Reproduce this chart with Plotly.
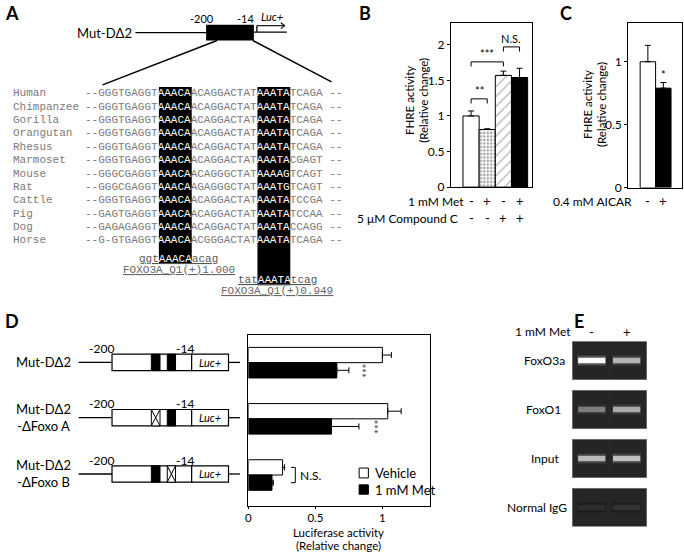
import plotly.graph_objects as go

W, H = 684, 558
SANS = "Lato"
MONO = "Liberation Mono"
GRAY = "#7a7a7a"


def fx(px):
    return px / W


def fy(py):
    return 1 - py / H


# ---------------- data ----------------
# A: alignment of the promoter region
species = ["Human", "Chimpanzee", "Gorilla", "Orangutan", "Rhesus", "Marmoset",
           "Mouse", "Rat", "Cattle", "Pig", "Dog", "Horse"]
sequences = [
    "--GGGTGAGGTAAACAACAGGACTATAAATATCAGA --",
    "--GGGTGAGGTAAACAACAGGACTATAAATATCAGA --",
    "--GGGTGAGGTAAACAACAGGACTATAAATATCAGA --",
    "--GGGTGAGGTAAACAACAGGACTATAAATATCAGA --",
    "--GGGTGAGGTAAACAACAGGACTATAAATATCAGA --",
    "--GGGTGAGGTAAACAACAGGACTATAAATACGAGT --",
    "--GGGCGAGGTAAACAACAGGGCTATAAAAGTCAGT --",
    "--GGGCGAGGTAAACAAGAGGGCTATAAATGTCAGT --",
    "--GGGTGAGGTAAACAACAGGACTATAAATATCCGA --",
    "--GAGTGAGGTAAACAACAGGACTATAAATATCCAA --",
    "--GAGAGAGGTAAACAACAGGACTATAAATACCAGG --",
    "--G-GTGAGGTAAACAACGGGACTATAAATATCAGA --",
]
foxo_sites = [(11, 16), (26, 31)]
site_motifs = ["ggt<span style='color:white'>AAACA</span>acag",
               "tat<span style='color:white'>AAATA</span>tcag"]
site_scores = ["FOXO3A_Q1(+)1.000", "FOXO3A_Q1(+)0.949"]

# B: FHRE activity, metformin +/- compound C
b_values = [1.00, 0.81, 1.57, 1.54]
b_errors = [0.07, 0.01, 0.06, 0.13]
b_met = ["-", "+", "-", "+"]
b_compound = ["-", "-", "+", "+"]
b_fill = ["white", "white", "white", "black"]
b_pattern = ["", ".", "/", ""]
b_brackets = [(0, 1, 1.24, "**"), (0, 2, 1.76, "***"), (2, 3, 1.97, "N.S.")]

# C: FHRE activity, AICAR
c_values = [1.00, 0.79]
c_errors = [0.13, 0.045]
c_aicar = ["-", "+"]

# D: constructs and luciferase activity
d_names = ["Mut-DΔ2", "Mut-DΔ2<br>-ΔFoxo A", "Mut-DΔ2<br>-ΔFoxo B"]
d_sites = [("black", "black"), ("cross", "black"), ("black", "cross")]
d_vehicle = [1.00, 1.04, 0.255]
d_vehicle_err = [0.067, 0.10, 0.015]
d_met = [0.66, 0.62, 0.176]
d_met_err = [0.09, 0.205, 0.01]
d_stars = [(0, 0.845, "***"), (1, 0.935, "***")]

# E: ChIP gel band intensities (0-255)
e_targets = ["FoxO3a", "FoxO1", "Input", "Normal IgG"]
e_label_x = [543.5, 543, 544.5, 536]
e_lanes = ["-", "+"]
e_vehicle = [250, 125, 185, 45]
e_met = [180, 170, 190, 50]

# ---------------- figure ----------------
fig = go.Figure()
shapes = []
ann = []


def txt(x, y, s, size=12, xanchor="center", yanchor="middle", family=SANS,
        color="black", xref="paper", yref="paper", **kw):
    ann.append(dict(x=x if xref != "paper" else fx(x), y=y if yref != "paper" else fy(y),
                    xref=xref, yref=yref, text=s, showarrow=False,
                    xanchor=xanchor, yanchor=yanchor, borderpad=0, borderwidth=0,
                    font=dict(size=size, family=family, color=color), **kw))


def line(x0, y0, x1, y1, w=1.3, color="black"):
    shapes.append(dict(type="line", xref="paper", yref="paper",
                       x0=fx(x0), y0=fy(y0), x1=fx(x1), y1=fy(y1),
                       line=dict(color=color, width=w)))


def rect(x0, y0, x1, y1, fill, lw=1.2, lc="black", layer="above"):
    shapes.append(dict(type="rect", xref="paper", yref="paper",
                       x0=fx(x0), y0=fy(y0), x1=fx(x1), y1=fy(y1), fillcolor=fill,
                       line=dict(color=lc, width=lw), layer=layer))


# panel letters
for letter, x, y in [("A", 2, 13), ("B", 358, 13), ("C", 559, 13), ("D", 2, 325), ("E", 574, 325)]:
    txt(x, y, "<b>%s</b>" % letter, size=18, xanchor="left")

# ---- A: schematic ----
txt(130, 33, "Mut-DΔ2", size=13, xanchor="right")
line(133, 33, 204, 33)
rect(204, 25, 252, 41, "black", lw=0)
line(252, 32.5, 285, 32.5)
line(255, 32.5, 255, 26)
line(255, 26, 283, 26, w=1.1)
line(279, 23, 283, 26, w=1.1)
line(279, 29, 283, 26, w=1.1)
txt(200, 19, "-200", size=11)
txt(244, 19, "-14", size=11)
txt(270, 17, "<i>Luc+</i>", size=11)
line(215, 41, 100, 86, w=1.5)
line(251, 41, 330, 83, w=1.5)

# alignment
SX, CW = 82, 6.6
ROW0, ROWH = 94.5, 13.55
hl_bottom = [267, 289]
for (a, b), yb in zip(foxo_sites, hl_bottom):
    rect(SX + (a + 0.3) * CW, 88, SX + (b + 0.3) * CW, yb, "black", lw=0)

for i, (sp, seq) in enumerate(zip(species, sequences)):
    y = ROW0 + i * ROWH
    txt(10, y, sp, size=11, family=MONO, color=GRAY, xanchor="left")
    parts, last = [], 0
    for a, b in foxo_sites:
        parts.append(seq[last:a])
        parts.append("<span style='color:white'>%s</span>" % seq[a:b])
        last = b
    parts.append(seq[last:])
    txt(SX, y, "".join(parts), size=11, family=MONO, color=GRAY, xanchor="left")

motif_y = [(262, 273), (284, 295)]
for (a, b), motif, score, (ym, ys) in zip(foxo_sites, site_motifs, site_scores, motif_y):
    x0 = SX + (a + 0.3 - 3) * CW
    txt(x0, ym, "<u>%s</u>" % motif, size=11, family=MONO, color="#555", xanchor="left")
    txt(x0 + 6 * CW, ys, "<u>%s</u>" % score, size=11, family=MONO, color="#666")

# ---- B ----
fig.add_trace(go.Bar(
    x=list(range(4)), y=b_values, width=1, xaxis="x", yaxis="y",
    marker=dict(color=b_fill, line=dict(color="black", width=1),
                pattern=dict(shape=b_pattern, fgcolor="black", bgcolor="white",
                             size=[4, 3.5, 7, 4], solidity=[0.3, 0.4, 0.15, 0.3])),
    error_y=dict(type="data", symmetric=False, array=b_errors, arrayminus=[0] * 4,
                 color="black", thickness=1, width=3),
    showlegend=False))

for x0, x1, y, lab in b_brackets:
    shapes.append(dict(type="path", xref="x", yref="y",
                       path="M %s,%s L %s,%s L %s,%s L %s,%s" % (x0, y - 0.065, x0, y, x1, y, x1, y - 0.065),
                       line=dict(color="black", width=1)))
    txt((x0 + x1) / 2, y + 0.02, lab, size=11, xref="x", yref="y", yanchor="bottom")

for i in range(4):
    txt(i, 204, b_met[i], size=13, xref="x")
    txt(i, 221, b_compound[i], size=13, xref="x")
txt(463, 204, "1 mM Met", size=12, xanchor="right")
txt(457, 221, "5 μM Compound C", size=12, xanchor="right")
txt(409, 102, "FHRE activity", size=11.5, textangle=-90)
txt(423, 102, "(Relative change)", size=11.5, textangle=-90)

# ---- C ----
fig.add_trace(go.Bar(
    x=[0, 1], y=c_values, width=1, xaxis="x2", yaxis="y2",
    marker=dict(color=["white", "black"], line=dict(color="black", width=1)),
    error_y=dict(type="data", symmetric=False, array=c_errors, arrayminus=[0, 0],
                 color="black", thickness=1, width=3),
    showlegend=False))
txt(1, c_values[1] + c_errors[1] + 0.01, "*", size=11, xref="x2", yref="y2", yanchor="bottom")
for i in range(2):
    txt(i, 204, c_aicar[i], size=13, xref="x2")
txt(632, 204, "0.4 mM AICAR", size=12, xanchor="right")
txt(587, 106, "FHRE activity", size=11.5, textangle=-90)
txt(601, 106, "(Relative change)", size=11.5, textangle=-90)

# ---- D: schematic ----
d_rows = [367, 423, 480]
for name, (s1, s2), cy in zip(d_names, d_sites, d_rows):
    txt(13, cy, name, size=13, xanchor="left")
    line(76, cy, 110, cy)
    line(226, cy, 238, cy)
    rect(109.5, cy - 8.3, 189.5, cy + 8.3, "white")
    rect(189.5, cy - 8.3, 226.5, cy + 8.3, "white")
    txt(208, cy, "<i>Luc+</i>", size=11)
    txt(98.7, cy - 14, "-200", size=12)
    txt(182.5, cy - 14, "-14", size=12)
    for kind, (x0, x1) in zip((s1, s2), [(149, 157.7), (165, 173.3)]):
        if kind == "black":
            rect(x0, cy - 8.3, x1, cy + 8.3, "black", lw=1)
        else:
            rect(x0, cy - 8.3, x1, cy + 8.3, "white", lw=1)
            line(x0, cy - 8.3, x1, cy + 8.3, w=1)
            line(x0, cy + 8.3, x1, cy - 8.3, w=1)

# ---- D: bars ----
BW = 0.272
fig.add_trace(go.Bar(
    y=[0, 1, 2], x=d_vehicle, orientation="h", width=BW, offset=-BW, xaxis="x3", yaxis="y3",
    marker=dict(color="white", line=dict(color="black", width=1)),
    error_x=dict(type="data", symmetric=False, array=d_vehicle_err, arrayminus=[0] * 3,
                 color="black", thickness=1, width=3),
    showlegend=False))
fig.add_trace(go.Bar(
    y=[0, 1, 2], x=d_met, orientation="h", width=BW, offset=0, xaxis="x3", yaxis="y3",
    marker=dict(color="black", line=dict(color="black", width=1)),
    error_x=dict(type="data", symmetric=False, array=d_met_err, arrayminus=[0] * 3,
                 color="black", thickness=1, width=3),
    showlegend=False))
for g, xs, lab in d_stars:
    txt(xs, g + BW / 2, lab, size=11, xref="x3", yref="y3", textangle=90, color="#333")
shapes.append(dict(type="path", xref="x3", yref="y3",
                   path="M 0.318,%s L 0.35,%s L 0.35,%s L 0.318,%s" % (2 - BW / 2, 2 - BW / 2, 2 + BW / 2, 2 + BW / 2),
                   line=dict(color="black", width=1)))
txt(0.386, 2, "N.S.", size=12, xref="x3", yref="y3", xanchor="left")
rect(357.7, 474, 367, 484, "white", lw=1)
rect(357.7, 491, 367, 500.5, "black", lw=1)
txt(374, 479, "Vehicle", size=13, xanchor="left")
txt(374, 496, "1 mM Met", size=13, xanchor="left")
txt(337, 539, "Luciferase activity", size=11.5)
txt(337, 552, "(Relative change)", size=11.5)

# ---- E: gels ----
rows = list(range(len(e_targets)))
for r in rows:
    shapes.append(dict(type="rect", xref="x4", yref="y4", x0=-0.56, x1=1.58, y0=r - 0.388, y1=r + 0.388,
                       fillcolor="#262626", line=dict(color="#6a6a6a", width=1), layer="below"))
for lane, vals in enumerate([e_vehicle, e_met]):
    fig.add_trace(go.Bar(
        x=[lane] * len(rows), y=[0.2] * len(rows), base=[r - 0.1 for r in rows],
        width=0.82, offset=-0.41, xaxis="x4", yaxis="y4",
        marker=dict(color=["rgb(%d,%d,%d)" % (v * 0.45, v * 0.45, v * 0.45) for v in vals], line=dict(width=0)),
        opacity=0.6, showlegend=False, hoverinfo="skip"))
    fig.add_trace(go.Bar(
        x=[lane] * len(rows), y=[0.11] * len(rows), base=[r - 0.055 for r in rows],
        width=0.78, offset=-0.39, xaxis="x4", yaxis="y4",
        marker=dict(color=["rgb(%d,%d,%d)" % (v, v, v) for v in vals], line=dict(width=0)),
        showlegend=False))
for r, name, lx in zip(rows, e_targets, e_label_x):
    txt(lx, 365 + r * 49.7, name, size=12)
txt(570, 336, "1 mM Met", size=12, xanchor="right")
for lane, lab in enumerate(e_lanes):
    txt(lane, 336, lab, size=13, xref="x4")


def frame(**kw):
    d = dict(showline=True, linecolor="black", linewidth=1.2, mirror=True, showgrid=False,
             zeroline=False, ticks="outside", ticklen=3, tickwidth=1, tickcolor="black",
             tickfont=dict(family=SANS, size=12, color="black"))
    d.update(kw)
    return d


fig.update_layout(
    width=W, height=H, autosize=False, margin=dict(l=0, r=0, t=0, b=0),
    paper_bgcolor="white", plot_bgcolor="rgba(0,0,0,0)", barmode="overlay",
    font=dict(family=SANS, color="black"),
    xaxis=frame(domain=[fx(450), fx(531)], range=[-1.24, 3.75], showticklabels=False, ticks=""),
    yaxis=frame(domain=[fy(189.5), fy(23)], range=[0, 2.31], dtick=0.5),
    xaxis2=frame(domain=[fx(628), fx(682)], range=[-1.27, 2.21], showticklabels=False, ticks="", anchor="y2"),
    yaxis2=frame(domain=[fy(190), fy(23)], range=[0, 1.31], dtick=0.5, anchor="x2"),
    xaxis3=frame(domain=[fx(246.5), fx(428.7)], range=[0, 1.354], dtick=0.5, anchor="y3",
                 ticklen=2, tickfont=dict(family=SANS, size=11.5, color="black")),
    yaxis3=frame(domain=[fy(512), fy(339)], range=[2.544, -0.497], showticklabels=False, ticks="", anchor="x3"),
    xaxis4=dict(domain=[fx(571.7), fx(646.7)], range=[-0.56, 1.58], visible=False, anchor="y4"),
    yaxis4=dict(domain=[fy(533.3), fy(345.7)], range=[3.39, -0.39], visible=False, anchor="x4"),
    shapes=shapes, annotations=ann,
)

# the page body has a default 8px margin; drop it so the figure sits at the window origin
fig.write_html("out.html", config={"displayModeBar": False},
               post_script="document.body.style.margin='0px';")
